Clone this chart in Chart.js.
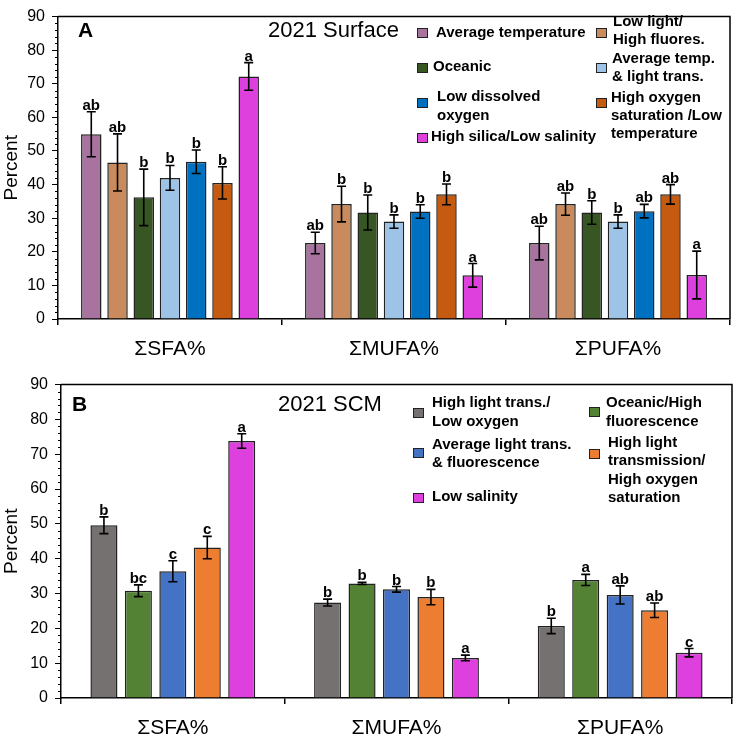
<!DOCTYPE html>
<html>
<head>
<meta charset="utf-8">
<script src="https://cdn.jsdelivr.net/npm/chart.js@4.4.1/dist/chart.umd.min.js"></script>
<style>
  html, body { margin: 0; padding: 0; background: #fff; }
  .panel { position: absolute; left: 0; width: 735px; height: 368px; }
  #panelA { top: 0; }
  #panelB { top: 368px; }
</style>
</head>
<body>
<div class="panel" id="panelA"><canvas id="chartA" width="735" height="368"></canvas></div>
<div class="panel" id="panelB"><canvas id="chartB" width="735" height="368"></canvas></div>
<script>
// --- data ---
const groups = ["ΣSFA%", "ΣMUFA%", "ΣPUFA%"];
const yTicks = [0, 10, 20, 30, 40, 50, 60, 70, 80, 90];

// 2021 Surface clusters
const surfaceLabels = [
  ["Average temperature"],
  ["Low light/", "High fluores."],
  ["Oceanic"],
  ["Average temp.", "& light trans."],
  ["Low dissolved", "oxygen"],
  ["High oxygen", "saturation /Low", "temperature"],
  ["High silica/Low salinity"]
];
const surfaceMeans = [
  [55.0, 22.6, 22.6],
  [46.6, 34.2, 34.2],
  [36.2, 31.7, 31.7],
  [42.0, 29.0, 29.0],
  [46.8, 32.0, 32.1],
  [40.5, 37.1, 37.1],
  [72.2, 13.0, 13.1]
];
const surfaceErrors = [
  [6.7, 3.2, 5.0],
  [8.5, 5.3, 3.3],
  [8.4, 5.2, 3.5],
  [3.7, 2.0, 2.0],
  [3.5, 2.0, 2.0],
  [4.8, 3.1, 2.9],
  [4.1, 3.5, 7.1]
];
const surfaceLetters = [
  ["ab", "ab", "ab"],
  ["ab", "b", "ab"],
  ["b", "b", "b"],
  ["b", "b", "b"],
  ["b", "b", "ab"],
  ["b", "b", "ab"],
  ["a", "a", "a"]
];

// 2021 SCM clusters
const scmLabels = [
  ["High light trans./", "Low oxygen"],
  ["Oceanic/High", "fluorescence"],
  ["Average light trans.", "& fluorescence"],
  ["High light", "transmission/", "High oxygen", "saturation"],
  ["Low salinity"]
];
const scmMeans = [
  [49.6, 27.4, 20.7],
  [30.8, 32.9, 33.9],
  [36.4, 31.2, 29.6],
  [43.2, 29.0, 25.2],
  [73.8, 11.5, 13.0]
];
const scmErrors = [
  [2.4, 1.0, 2.2],
  [1.7, 0.3, 1.6],
  [3.0, 0.8, 2.6],
  [3.2, 2.2, 2.1],
  [2.1, 0.8, 1.2]
];
const scmLetters = [
  ["b", "b", "b"],
  ["bc", "b", "a"],
  ["c", "b", "ab"],
  ["c", "b", "ab"],
  ["a", "a", "c"]
];

// --- styles ---
const surfaceColors = ["#A8739F", "#C98B5E", "#375623", "#9DC3E6", "#0070C0", "#C55A11", "#DD40DD"];
const scmColors = ["#767171", "#548235", "#4472C4", "#ED7D31", "#DD40DD"];
const FONT = "'Liberation Sans', Arial, sans-serif";

// legend layout: square x/y, text x, line centre y's
const surfaceLegendPos = [
  { sx: 417, sy: 28, tx: 436, ty: [33] },
  { sx: 596, sy: 28, tx: 613, ty: [22, 40] },
  { sx: 417, sy: 63, tx: 433, ty: [67] },
  { sx: 596, sy: 63, tx: 612, ty: [59, 77] },
  { sx: 417, sy: 98, tx: 437, ty: [97, 116] },
  { sx: 596, sy: 98, tx: 611, ty: [98, 116, 134] },
  { sx: 417, sy: 133, tx: 431, ty: [137] }
];
const scmLegendPos = [
  { sx: 413, sy: 40, tx: 432, ty: [35, 54] },
  { sx: 589, sy: 39, tx: 606, ty: [35, 54] },
  { sx: 413, sy: 80, tx: 432, ty: [77, 95] },
  { sx: 589, sy: 81, tx: 608, ty: [75, 93, 112, 130] },
  { sx: 413, sy: 125, tx: 432, ty: [129] }
];

const decorPlugin = {
  id: "decor",
  afterDatasetsDraw(chart, args, opts) {
    const ctx = chart.ctx;
    const area = chart.chartArea;
    const y = chart.scales.y;
    ctx.save();

    // frame: top and right
    ctx.strokeStyle = "#000";
    ctx.lineWidth = 1.5;
    ctx.beginPath();
    ctx.moveTo(area.left, area.top);
    ctx.lineTo(area.right, area.top);
    ctx.lineTo(area.right, area.bottom);
    ctx.stroke();

    // minor ticks every 2
    ctx.lineWidth = 1;
    for (let v = 0; v <= 90; v += 2) {
      if (v % 10 === 0) continue;
      const py = Math.round(y.getPixelForValue(v)) + 0.5;
      ctx.beginPath();
      ctx.moveTo(area.left - 3, py);
      ctx.lineTo(area.left, py);
      ctx.stroke();
    }

    // error bars + letters
    chart.data.datasets.forEach((ds, i) => {
      const meta = chart.getDatasetMeta(i);
      meta.data.forEach((bar, j) => {
        const v = ds.data[j];
        const e = opts.errors[i][j];
        const yt = y.getPixelForValue(v + e);
        const yb = y.getPixelForValue(v - e);
        ctx.strokeStyle = "#000";
        ctx.lineWidth = 1.6;
        ctx.beginPath();
        ctx.moveTo(bar.x, yt); ctx.lineTo(bar.x, yb);
        ctx.moveTo(bar.x - 4.5, yt); ctx.lineTo(bar.x + 4.5, yt);
        ctx.moveTo(bar.x - 4.5, yb); ctx.lineTo(bar.x + 4.5, yb);
        ctx.stroke();
        ctx.fillStyle = "#000";
        ctx.font = "bold 15px " + FONT;
        ctx.textAlign = "center";
        ctx.textBaseline = "alphabetic";
        ctx.fillText(opts.letters[i][j], bar.x, yt - 2);
      });
    });

    // panel letter and title
    ctx.fillStyle = "#000";
    ctx.textBaseline = "middle";
    ctx.textAlign = "left";
    ctx.font = "bold 21px " + FONT;
    ctx.fillText(opts.panel, opts.panelX, opts.panelY);
    ctx.font = "22px " + FONT;
    ctx.fillText(opts.title, opts.titleX, opts.panelY);

    // legend
    opts.legendPos.forEach((p, i) => {
      ctx.fillStyle = chart.data.datasets[i].backgroundColor;
      ctx.fillRect(p.sx, p.sy, 10, 9);
      ctx.strokeStyle = "#222";
      ctx.lineWidth = 1;
      ctx.strokeRect(p.sx + 0.5, p.sy + 0.5, 10, 9);
      ctx.fillStyle = "#000";
      ctx.font = "bold 15px " + FONT;
      opts.labels[i].forEach((line, k) => {
        ctx.fillText(line, p.tx, p.ty[k]);
      });
    });
    ctx.restore();
  }
};

function makeChart(canvasId, labels, means, colors, cfg) {
  const datasets = means.map((m, i) => ({
    label: labels[i].join(" "),
    data: m,
    backgroundColor: colors[i],
    borderColor: "#222",
    borderWidth: 1.5,
    categoryPercentage: cfg.catPct,
    barPercentage: cfg.barPct
  }));
  return new Chart(document.getElementById(canvasId), {
    type: "bar",
    data: { labels: groups, datasets: datasets },
    options: {
      responsive: false,
      animation: false,
      layout: { padding: { top: cfg.padTop, right: cfg.padRight, left: 0, bottom: 0 } },
      plugins: {
        legend: { display: false },
        tooltip: { enabled: false },
        decor: {
          errors: cfg.errors,
          letters: cfg.letters,
          labels: labels,
          legendPos: cfg.legendPos,
          panel: cfg.panel,
          panelX: cfg.panelX,
          panelY: cfg.panelY,
          title: cfg.title,
          titleX: cfg.titleX
        }
      },
      scales: {
        x: {
          grid: { offset: true, drawOnChartArea: false, drawTicks: true, tickLength: 6, color: "#000", lineWidth: 1.5 },
          border: { color: "#000", width: 1.5 },
          ticks: { color: "#000", font: { family: FONT, size: 21 }, padding: 12 },
          afterFit(scale) { scale.height = cfg.xHeight; }
        },
        y: {
          min: 0,
          max: 90,
          afterBuildTicks(scale) { scale.ticks = yTicks.map(v => ({ value: v })); },
          grid: { drawOnChartArea: false, drawTicks: true, tickLength: 6, color: "#000", lineWidth: 1 },
          border: { color: "#000", width: 1.5 },
          ticks: { color: "#000", font: { family: FONT, size: 16 }, padding: 7 },
          title: { display: true, text: "Percent", color: "#000", font: { family: FONT, size: 19 }, padding: 0 },
          afterFit(scale) { scale.width = cfg.yWidth; }
        }
      }
    },
    plugins: [decorPlugin]
  });
}

makeChart("chartA", surfaceLabels, surfaceMeans, surfaceColors, {
  catPct: 0.82, barPct: 0.78,
  padTop: 8, padRight: 5, xHeight: 49, yWidth: 58,
  errors: surfaceErrors, letters: surfaceLetters, legendPos: surfaceLegendPos,
  panel: "A", panelX: 78, panelY: 31, title: "2021 Surface", titleX: 268
});

makeChart("chartB", scmLabels, scmMeans, scmColors, {
  catPct: 0.77, barPct: 0.785,
  padTop: 16, padRight: 3, xHeight: 38, yWidth: 61,
  errors: scmErrors, letters: scmLetters, legendPos: scmLegendPos,
  panel: "B", panelX: 72, panelY: 37, title: "2021 SCM", titleX: 278
});
</script>
</body>
</html>
